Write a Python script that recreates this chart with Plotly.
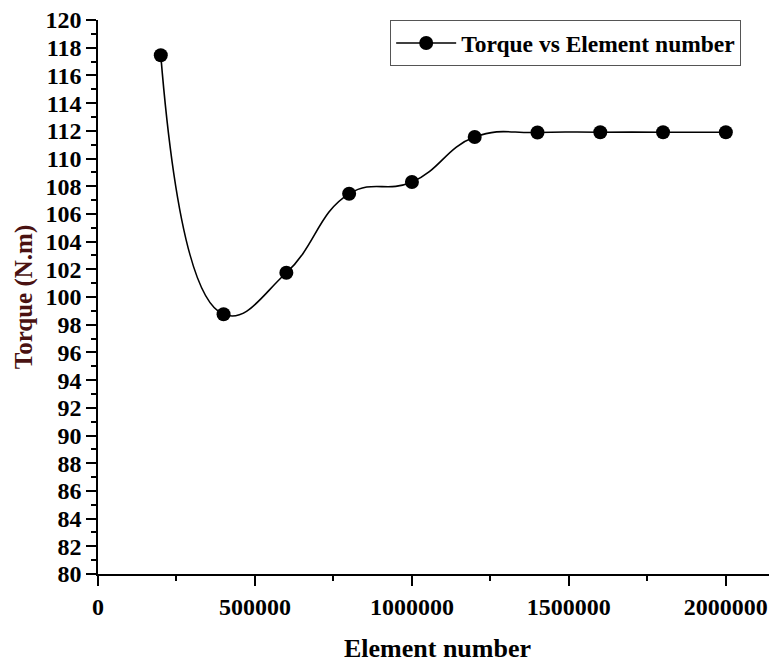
import plotly.graph_objects as go

element_number = [200000, 400000, 600000, 800000, 1000000, 1200000, 1400000, 1600000, 1800000, 2000000]
torque = [117.45, 98.75, 101.75, 107.45, 108.3, 111.55, 111.88, 111.9, 111.9, 111.9]
series_name = "Torque vs Element number"
y_ticks = list(range(80, 121, 2))
x_ticks = [0, 500000, 1000000, 1500000, 2000000]

FONT = "Liberation Serif, Times New Roman, serif"

fig = go.Figure()
fig.add_trace(go.Scatter(
    x=element_number, y=torque, name=series_name,
    mode="lines+markers",
    line=dict(color="black", width=1.6, shape="spline", smoothing=1.3),
    marker=dict(color="black", size=14),
))

# page body has an 8px margin, so the figure is sized to the visible area
fig.update_layout(
    width=769, height=655,
    margin=dict(l=90, r=0, t=12, b=89),
    paper_bgcolor="white", plot_bgcolor="white",
    showlegend=True,
    legend=dict(
        x=0.43, y=1.0, xanchor="left", yanchor="top",
        bordercolor="#555555", borderwidth=1.2, bgcolor="white",
        font=dict(family=FONT, size=23.5, color="black", weight="bold"),
        itemwidth=60,
    ),
)
fig.update_xaxes(
    range=[0, 2163000], automargin=False, ticklabeloverflow="allow",
    tickvals=x_ticks, ticktext=[str(v) for v in x_ticks],
    ticks="outside", ticklen=10, tickwidth=1.5, tickcolor="black",
    minor=dict(ticks="outside", ticklen=5, tickwidth=1.5, tickcolor="black", dtick=250000, showgrid=False),
    showline=True, linecolor="black", linewidth=1.5,
    showgrid=False, zeroline=False,
    tickfont=dict(family=FONT, size=24, color="black", weight="bold"),
    title=dict(text="Element number", standoff=20,
               font=dict(family=FONT, size=26, color="black", weight="bold")),
)
fig.update_yaxes(
    range=[80, 120], automargin=False, ticklabeloverflow="allow",
    tickvals=y_ticks, ticktext=[str(v) for v in y_ticks],
    ticks="outside", ticklen=10, tickwidth=1.5, tickcolor="black",
    minor=dict(ticks="outside", ticklen=5, tickwidth=1.5, tickcolor="black", dtick=1, showgrid=False),
    showline=True, linecolor="black", linewidth=1.5,
    showgrid=False, zeroline=False,
    tickfont=dict(family=FONT, size=24, color="black", weight="bold"),
    title=dict(text="Torque (N.m)", standoff=6,
               font=dict(family=FONT, size=25, color="#4a1212", weight="bold")),
)

fig.write_html("out.html")
